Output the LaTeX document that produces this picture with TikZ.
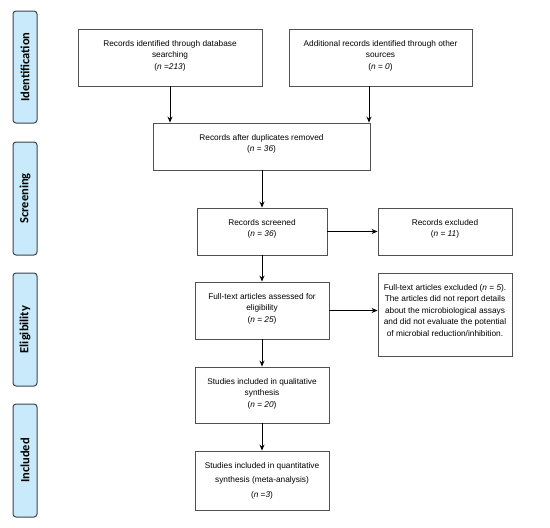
\documentclass[tikz,border=0pt]{standalone}
\usepackage{fontspec}
\setmainfont{Liberation Sans}
\newfontfamily\phasefont{Carlito}
\usetikzlibrary{arrows.meta}
\definecolor{phasefill}{RGB}{200,234,250}
\definecolor{phasedraw}{RGB}{60,68,78}
\definecolor{boxdraw}{RGB}{80,80,80}
\begin{document}
\begin{tikzpicture}[x=1pt,y=-1pt,
  phase/.style={draw=phasedraw, line width=1pt, fill=phasefill, rounded corners=3pt,
    minimum width=24pt, inner sep=0pt},
  phaselabel/.style={rotate=90, font=\phasefont\bfseries\fontsize{12.5}{14}\selectfont},
  box/.style={draw=boxdraw, line width=0.9pt, inner sep=0pt},
  txt/.style={align=center, inner sep=0pt, anchor=north, yshift=-11.5pt,
    font=\fontsize{8.3}{11.5}\selectfont},
  arr/.style={line width=1pt, -{Stealth[length=6pt,width=5pt]}}
]
\useasboundingbox (0,0) rectangle (550,528);
% phases
\node[phase, minimum height=112pt] (p1) at (25,67) {};
\node[phaselabel] at (p1.center) {Identification};
\node[phase, minimum height=113pt] (p2) at (25,198.5) {};
\node[phaselabel] at (p2.center) {Screening};
\node[phase, minimum height=113pt] (p3) at (25,329.5) {};
\node[phaselabel] at (p3.center) {Eligibility};
\node[phase, minimum height=113pt] (p4) at (25,460.5) {};
\node[phaselabel] at (p4.center) {Included};
% boxes
\node[box, minimum width=184pt, minimum height=57pt] (b1) at (170,57.5) {};
\node[txt] at (b1.north) {Records identified through database\\searching\\(\textit{n} =\textit{213})};
\node[box, minimum width=183pt, minimum height=57pt] (b2) at (380.5,57.5) {};
\node[txt] at (b2.north) {Additional records identified through other\\sources\\(\textit{n} = \textit{0})};
\node[box, minimum width=217pt, minimum height=47pt] (b3) at (261.5,146.5) {};
\node[txt] at (b3.north) {Records after duplicates removed\\(\textit{n} = \textit{36})};
\node[box, minimum width=130pt, minimum height=47pt] (b4) at (262,231.5) {};
\node[txt] at (b4.north) {Records screened\\(\textit{n} = \textit{36})};
\node[box, minimum width=134pt, minimum height=47pt] (b5) at (445,231.5) {};
\node[txt] at (b5.north) {Records excluded\\(\textit{n} = \textit{11})};
\node[box, minimum width=134pt, minimum height=57pt] (b6) at (262,310.5) {};
\node[txt] at (b6.north) {Full-text articles assessed for\\eligibility\\(\textit{n} = \textit{25})};
\node[box, minimum width=134pt, minimum height=83pt] (b7) at (445,314.5) {};
\node[txt] at (b7.north) {Full-text articles excluded (\textit{n} = \textit{5}).\\The articles did not report details\\about the microbiological assays\\and did not evaluate the potential\\of microbial reduction/inhibition.};
\node[box, minimum width=134pt, minimum height=56pt] (b8) at (262,395) {};
\node[txt] at (b8.north) {Studies included in qualitative\\synthesis\\(\textit{n} = \textit{20})};
\node[box, minimum width=134pt, minimum height=59pt] (b9) at (262,480.5) {};
\node[txt, font=\fontsize{8.3}{14.5}\selectfont] at (b9.north) {Studies included in quantitative\\synthesis (meta-analysis)\\(\textit{n} =\textit{3})};
% connectors
\draw[arr] (b1.south) -- (b1.south |- b3.north);
\draw[arr] (b2.south -| 369,0) -- (369,0 |- b3.north);
\draw[arr] (b3.south -| b4.north) -- (b4.north);
\draw[arr] (b4.east) -- (b5.west);
\draw[arr] (b4.south) -- (b6.north);
\draw[arr] (b6.east) -- (b6.east -| b7.west);
\draw[arr] (b6.south) -- (b8.north);
\draw[arr] (b8.south) -- (b9.north);
\end{tikzpicture}
\end{document}
